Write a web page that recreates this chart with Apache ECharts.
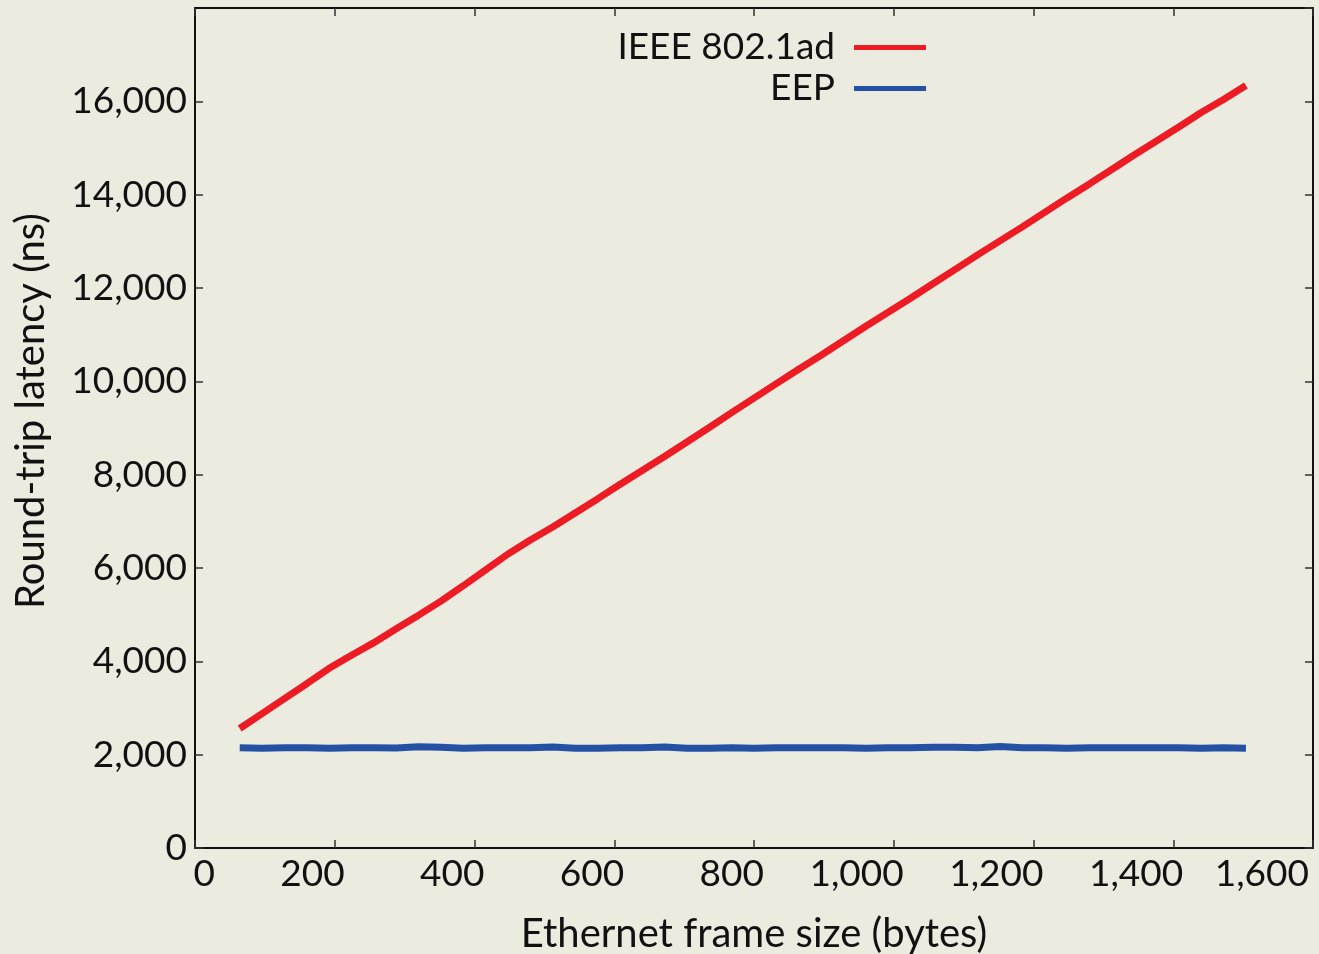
<!DOCTYPE html>
<html>
<head>
<meta charset="utf-8">
<script src="https://cdn.jsdelivr.net/npm/echarts@6/dist/echarts.min.js"></script>
<style>
  html, body { margin: 0; padding: 0; background: #ecebe0; }
  #chart { width: 1319px; height: 954px; }
</style>
</head>
<body>
<div id="chart"></div>
<script>
// frame sizes (bytes)
const frameSizes = [64, 96, 128, 160, 192, 224, 256, 288, 320, 352, 384, 416, 448, 480, 512, 544,
  576, 608, 640, 672, 704, 736, 768, 800, 832, 864, 896, 928, 960, 992, 1024, 1056, 1088, 1120,
  1152, 1184, 1216, 1248, 1280, 1312, 1344, 1376, 1408, 1440, 1472, 1504];

// round-trip latency (ns)
const ieeeLatency = [2560, 2880, 3200, 3520, 3850, 4130, 4400, 4700, 4990, 5290, 5620, 5960, 6300,
  6600, 6880, 7180, 7480, 7790, 8090, 8390, 8700, 9010, 9330, 9640, 9950, 10260, 10560, 10870,
  11180, 11480, 11780, 12090, 12400, 12710, 13010, 13310, 13620, 13930, 14230, 14540, 14850,
  15150, 15450, 15760, 16040, 16340];
const eepLatency = [2150, 2140, 2150, 2150, 2140, 2150, 2150, 2145, 2170, 2160, 2140, 2150, 2150,
  2150, 2165, 2140, 2140, 2150, 2150, 2165, 2140, 2140, 2150, 2140, 2150, 2150, 2150, 2150, 2140,
  2150, 2150, 2160, 2160, 2150, 2175, 2150, 2150, 2140, 2150, 2150, 2150, 2150, 2150, 2140, 2150,
  2140];

const seriesNames = ["IEEE 802.1ad", "EEP"];
const seriesColors = ["#ed1c24", "#2451a4"];

const font = "Lato";
const fmt = v => v.toLocaleString("en-US");

let myChart = echarts.init(document.getElementById("chart"));

const tickStyle = { show: true, inside: true, length: 8, lineStyle: { color: "#333", width: 1.5 } };
const lineAxis = { show: true, onZero: false, lineStyle: { color: "#111", width: 2 } };
const labelFont = { fontFamily: font, fontSize: 37, color: "#111" };

let option = {
  backgroundColor: "#ecebe0",
  animation: false,
  textStyle: { fontFamily: font },
  grid: { left: 195, right: 6, top: 8, bottom: 106, containLabel: false, outerBoundsMode: "none" },
  legend: {
    orient: "vertical",
    align: "right",
    right: 388,
    top: 24,
    itemWidth: 72,
    itemHeight: 5,
    itemGap: 4,
    icon: "rect",
    data: seriesNames,
    textStyle: { fontFamily: font, fontSize: 37, color: "#111", lineHeight: 36, padding: [0, 14, 0, 0] }
  },
  xAxis: [
    {
      type: "value",
      position: "bottom",
      min: 0,
      max: 1600,
      interval: 200,
      splitLine: { show: false },
      axisLine: lineAxis,
      axisTick: tickStyle,
      axisLabel: {
        ...labelFont, margin: 8,
        align: "right", padding: [0, -10, 0, 0],
        formatter: v => {
          if (v === 0) return "{z|0}";
          if (v === 1600) return "{e|" + fmt(v) + "}";
          return "{n|" + fmt(v) + "}";
        },
        rich: {
          n: { ...labelFont },
          z: { ...labelFont, padding: [0, -10, 0, 0] },
          e: { ...labelFont, padding: [0, 14, 0, 0] }
        }
      },
      name: "Ethernet frame size (bytes)",
      nameLocation: "middle",
      nameGap: 66,
      nameTextStyle: { fontFamily: font, fontSize: 40, color: "#111" }
    },
    {
      type: "value",
      position: "top",
      min: 0,
      max: 1600,
      interval: 200,
      splitLine: { show: false },
      axisLine: lineAxis,
      axisTick: tickStyle,
      axisLabel: { show: false }
    }
  ],
  yAxis: [
    {
      type: "value",
      position: "left",
      min: 0,
      max: 18000,
      interval: 2000,
      splitLine: { show: false },
      axisLine: lineAxis,
      axisTick: tickStyle,
      axisLabel: {
        ...labelFont, margin: 8,
        showMaxLabel: false,
        formatter: fmt
      },
      name: "Round-trip latency (ns)",
      nameLocation: "middle",
      nameGap: 144,
      nameTextStyle: { fontFamily: font, fontSize: 40, color: "#111", padding: [0, 0, 0, 34] }
    },
    {
      type: "value",
      position: "right",
      min: 0,
      max: 18000,
      interval: 2000,
      splitLine: { show: false },
      axisLine: lineAxis,
      axisTick: tickStyle,
      axisLabel: { show: false }
    }
  ],
  series: [
    {
      name: seriesNames[0],
      type: "line",
      showSymbol: false,
      color: seriesColors[0],
      lineStyle: { color: seriesColors[0], width: 7 },
      data: frameSizes.map((x, i) => [x, ieeeLatency[i]])
    },
    {
      name: seriesNames[1],
      type: "line",
      showSymbol: false,
      color: seriesColors[1],
      lineStyle: { color: seriesColors[1], width: 7 },
      data: frameSizes.map((x, i) => [x, eepLatency[i]])
    }
  ]
};
myChart.setOption(option);
</script>
</body>
</html>
